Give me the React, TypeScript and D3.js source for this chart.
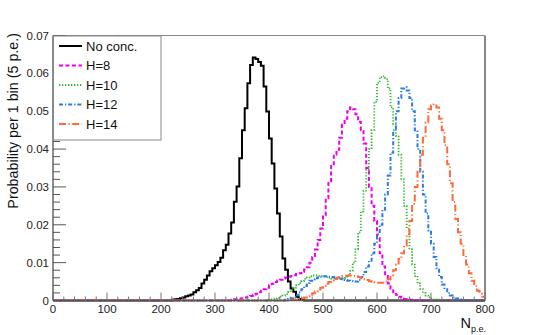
import React from 'react';
import * as d3 from 'd3';

// bin width 5 p.e., histograms on 0..800
const BIN = 5;
const X_MAX = 800;
const xTicks = [0, 100, 200, 300, 400, 500, 600, 700, 800];
const yTicks = [0, 0.01, 0.02, 0.03, 0.04, 0.05, 0.06, 0.07];
const yTickLabels = ['0', '0.01', '0.02', '0.03', '0.04', '0.05', '0.06', '0.07'];

// first bin (p.e.) and contents
const noConcStart = 220;
const noConc = [0.0002, 0.0003, 0.0004, 0.0006, 0.0008, 0.0011, 0.0013, 0.0016, 0.0022, 0.0027,
  0.0033, 0.0045, 0.0055, 0.0066, 0.0077, 0.0085, 0.0093, 0.0102, 0.0113, 0.0133,
  0.0147, 0.0177, 0.0206, 0.0261, 0.0301, 0.0376, 0.045, 0.0508, 0.0574, 0.0622,
  0.0642, 0.0638, 0.063, 0.062, 0.0565, 0.0499, 0.0428, 0.0362, 0.0296, 0.023,
  0.0169, 0.0111, 0.0081, 0.005, 0.0032, 0.0023, 0.001, 0.0004, 0.0002];

const h8Start = 330;
const h8 = [0.0002, 0.0003, 0.0004, 0.0005, 0.0006, 0.0008, 0.001, 0.0012, 0.0015, 0.0018,
  0.0022, 0.0026, 0.003, 0.0034, 0.004, 0.0044, 0.0049, 0.0053, 0.0055, 0.0058,
  0.0061, 0.0063, 0.0065, 0.0067, 0.007, 0.0072, 0.0076, 0.0082, 0.0088, 0.01,
  0.0115, 0.0135, 0.016, 0.019, 0.0225, 0.027, 0.0315, 0.0355, 0.0385, 0.0398,
  0.043, 0.0465, 0.048, 0.05, 0.051, 0.0505, 0.0492, 0.0472, 0.045, 0.0415,
  0.035, 0.03, 0.025, 0.021, 0.0165, 0.0125, 0.009, 0.0065, 0.0045, 0.0032,
  0.0022, 0.0015, 0.001, 0.0007, 0.0004, 0.0003, 0.0002, 0.0001];

const h10Start = 400;
const h10 = [0.0002, 0.0003, 0.0005, 0.0007, 0.001, 0.0013, 0.0017, 0.0022, 0.0028, 0.0034,
  0.004, 0.0046, 0.0052, 0.0057, 0.0061, 0.0064, 0.0066, 0.0066, 0.0065, 0.0064,
  0.0063, 0.0062, 0.006, 0.0058, 0.0058, 0.0057, 0.0057, 0.0058, 0.006, 0.0066,
  0.0078, 0.01, 0.0135, 0.018, 0.0235, 0.029, 0.0345, 0.04, 0.045, 0.0525,
  0.0575, 0.059, 0.0592, 0.0585, 0.056, 0.051, 0.0465, 0.0435, 0.0385, 0.032,
  0.025, 0.019, 0.0135, 0.0095, 0.0065, 0.0045, 0.003, 0.002, 0.0013, 0.0008,
  0.0005, 0.0003, 0.0002];

const h12Start = 430;
const h12 = [0.0002, 0.0004, 0.0006, 0.0009, 0.0014, 0.0022, 0.003, 0.0038, 0.0046, 0.0052,
  0.0056, 0.0059, 0.0061, 0.0063, 0.0064, 0.0064, 0.0063, 0.0062, 0.0061, 0.006,
  0.0058, 0.0056, 0.0054, 0.0052, 0.0051, 0.005, 0.005, 0.0054, 0.0062, 0.0075,
  0.009, 0.0105, 0.0125, 0.015, 0.0175, 0.02, 0.024, 0.028, 0.033, 0.039,
  0.045, 0.05, 0.0535, 0.056, 0.0563, 0.0555, 0.0535, 0.05, 0.045, 0.04,
  0.034, 0.028, 0.023, 0.0185, 0.015, 0.0115, 0.0085, 0.0062, 0.0042, 0.003,
  0.002, 0.0013, 0.0008, 0.0005, 0.0003, 0.0002];

const h14Start = 440;
const h14 = [0.0001, 0.0002, 0.0003, 0.0004, 0.0005, 0.0008, 0.0011, 0.0015, 0.0019, 0.0024,
  0.0029, 0.0034, 0.0039, 0.0044, 0.0049, 0.0053, 0.0057, 0.006, 0.0062, 0.0064,
  0.0065, 0.0066, 0.0066, 0.0065, 0.0064, 0.0062, 0.0059, 0.0056, 0.0054, 0.0051,
  0.0049, 0.0048, 0.0047, 0.0047, 0.0047, 0.005, 0.0056, 0.0067, 0.008, 0.0095,
  0.011, 0.0125, 0.0145, 0.0175, 0.021, 0.0255, 0.03, 0.034, 0.0385, 0.043,
  0.047, 0.0505, 0.0515, 0.0518, 0.051, 0.048, 0.045, 0.041, 0.036, 0.031,
  0.026, 0.0215, 0.018, 0.015, 0.012, 0.0095, 0.0072, 0.0052, 0.0038, 0.0026,
  0.0018, 0.001];

const seriesNames = ['No conc.', 'H=8', 'H=10', 'H=12', 'H=14'];
const seriesData = [noConc, h8, h10, h12, h14];
const seriesStarts = [noConcStart, h8Start, h10Start, h12Start, h14Start];
const colors = ['#000000', '#ee00ee', '#33b833', '#2a7de0', '#ff6a3a'];
const dashes = [null, '4,2.5', '1.3,1.7', '4,2,1.2,2', '7,2.5,1.2,2.5'];
const widths = [2, 2, 1.8, 2, 2];

const W = 540;
const H = 335;
const left = 53;
const right = 485;
const top = 35.5;
const bottom = 300.5;

const font = '"Liberation Sans", Arial, Helvetica, sans-serif';

function fullBins(values: number[], start: number): number[] {
  const n = X_MAX / BIN;
  const out: number[] = new Array(n).fill(0);
  const first = start / BIN;
  values.forEach((v, i) => {
    out[first + i] = v;
  });
  return out;
}

export default function App() {
  const x = d3.scaleLinear().domain([0, X_MAX]).range([left, right]);
  const y = d3.scaleLinear().domain([0, 0.07]).range([bottom, top]);

  const step = d3
    .line<[number, number]>()
    .x((d) => x(d[0]))
    .y((d) => y(d[1]))
    .curve(d3.curveStepAfter);

  const paths = seriesData.map((vals, s) => {
    const bins = fullBins(vals, seriesStarts[s]);
    const pts: [number, number][] = bins.map((v, i) => [i * BIN, v]);
    pts.push([X_MAX, bins[bins.length - 1]]);
    return step(pts) as string;
  });

  const xMinor = d3.range(0, X_MAX + 1, 20);
  const yMinor = d3.range(0, 0.0701, 0.002);

  const legendRows = [46, 65.5, 85, 104.5, 124];

  return (
    <svg
      width={W}
      height={H}
      style={{ position: 'absolute', left: 0, top: 0, background: '#fff' }}
      fontFamily={font}
    >
      <rect x={0} y={0} width={W} height={H} fill="#fff" />

      {/* frame */}
      <line x1={left} x2={right} y1={top} y2={top} stroke="#888" strokeWidth={1} />
      <line x1={right} x2={right} y1={top} y2={bottom} stroke="#888" strokeWidth={2} />

      {/* histograms */}
      {paths.map((d, i) => (
        <path
          key={i}
          d={d}
          fill="none"
          stroke={colors[i]}
          strokeWidth={widths[i]}
          strokeDasharray={dashes[i] ?? undefined}
        />
      ))}

      {/* x axis */}
      <line x1={left} x2={right} y1={bottom} y2={bottom} stroke="#555" strokeWidth={1.3} />
      {xMinor.map((t) => (
        <line
          key={'xm' + t}
          x1={x(t)}
          x2={x(t)}
          y1={bottom}
          y2={bottom - (t % 100 === 0 ? 8 : 4)}
          stroke="#777"
          strokeWidth={1}
        />
      ))}
      {xTicks.map((t) => (
        <text key={'xl' + t} x={x(t)} y={313} fontSize={11.5} textAnchor="middle" fill="#222">
          {t}
        </text>
      ))}

      {/* y axis */}
      <line x1={left} x2={left} y1={top} y2={bottom} stroke="#666" strokeWidth={1.5} />
      {yMinor.map((t, i) => (
        <line
          key={'ym' + i}
          x1={left}
          x2={left + (i % 5 === 0 ? 13 : 7)}
          y1={y(t)}
          y2={y(t)}
          stroke="#555"
          strokeWidth={1}
        />
      ))}
      {yTicks.map((t, i) => (
        <text
          key={'yl' + t}
          x={49}
          y={y(t) + 4}
          fontSize={11.5}
          textAnchor="end"
          fill="#222"
        >
          {yTickLabels[i]}
        </text>
      ))}

      {/* axis titles */}
      <text
        transform={`translate(18,33) rotate(-90)`}
        fontSize={14.3}
        textAnchor="end"
        fill="#111"
      >
        Probability per 1 bin (5 p.e.)
      </text>
      <text x={486} y={328} fontSize={14.5} textAnchor="end" fill="#111">
        N
        <tspan fontSize={9} dy={4}>
          p.e.
        </tspan>
      </text>

      {/* legend */}
      <rect x={53.5} y={36} width={107.5} height={104} fill="#fff" stroke="#888" strokeWidth={1} />
      {seriesNames.map((name, i) => (
        <g key={name}>
          <line
            x1={59}
            x2={82}
            y1={legendRows[i]}
            y2={legendRows[i]}
            stroke={colors[i]}
            strokeWidth={widths[i]}
            strokeDasharray={dashes[i] ?? undefined}
          />
          <text x={86} y={legendRows[i] + 4.5} fontSize={13} fill="#111">
            {name}
          </text>
        </g>
      ))}
    </svg>
  );
}
